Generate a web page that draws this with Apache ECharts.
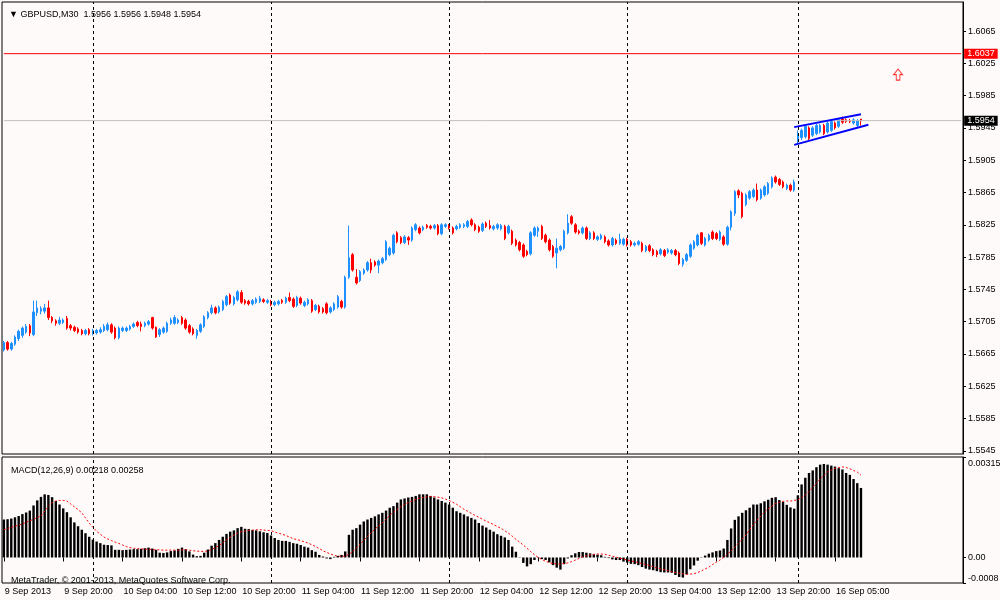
<!DOCTYPE html>
<html>
<head>
<meta charset="utf-8">
<title>GBPUSD,M30</title>
<script src="https://cdn.jsdelivr.net/npm/echarts@6.0.0/dist/echarts.min.js"></script>
<style>
  html, body { margin: 0; padding: 0; background: #fffafa; }
  #chart { width: 1000px; height: 600px; }
</style>
</head>
<body>
<div id="chart"></div>
<script>
// sessions: [day, first half-hour slot, bar count] - the last day also holds the empty slots on the right
var sessions = [['9 Sep', 24, 24], ['10 Sep', 0, 48], ['11 Sep', 0, 48], ['12 Sep', 0, 48], ['13 Sep', 0, 46], ['16 Sep', 0, 45]];
var tickIdx = [0, 16, 32, 48, 64, 80, 96, 112, 128, 144, 160, 176, 192, 208, 224];
var tickText = ['9 Sep 2013', '9 Sep 20:00', '10 Sep 04:00', '10 Sep 12:00', '10 Sep 20:00', '11 Sep 04:00', '11 Sep 12:00',
  '11 Sep 20:00', '12 Sep 04:00', '12 Sep 12:00', '12 Sep 20:00', '13 Sep 04:00', '13 Sep 12:00', '13 Sep 20:00', '16 Sep 05:00'];
var sepIdx = [24, 72, 120, 168, 214]; // period separators (midnight)
var priceTicks = [1.5545, 1.5585, 1.5625, 1.5665, 1.5705, 1.5745, 1.5785, 1.5825, 1.5865, 1.5905, 1.5945, 1.5985, 1.6025, 1.6065];
var macdTicks = [-0.0008, 0, 0.00315];

// open, close, low, high
var candles = [
  // 0
  [1.5670,1.5679,1.5668,1.5681],[1.5679,1.5671,1.5669,1.5681],[1.5671,1.5678,1.5669,1.5680],[1.5677,1.5686,1.5675,1.5688],
  [1.5684,1.5693,1.5681,1.5695],[1.5688,1.5697,1.5685,1.5699],[1.5692,1.5699,1.5690,1.5702],[1.5700,1.5691,1.5687,1.5702],
  // 8
  [1.5689,1.5717,1.5687,1.5731],[1.5716,1.5722,1.5712,1.5731],[1.5718,1.5721,1.5714,1.5724],[1.5718,1.5722,1.5715,1.5727],
  [1.5722,1.5710,1.5707,1.5731],[1.5710,1.5706,1.5703,1.5712],[1.5706,1.5703,1.5700,1.5708],[1.5703,1.5707,1.5701,1.5711],
  // 16
  [1.5704,1.5707,1.5702,1.5709],[1.5709,1.5697,1.5695,1.5712],[1.5700,1.5697,1.5694,1.5702],[1.5698,1.5694,1.5692,1.5700],
  [1.5696,1.5692,1.5690,1.5698],[1.5694,1.5690,1.5688,1.5696],[1.5690,1.5694,1.5688,1.5696],[1.5695,1.5690,1.5688,1.5697],
  // 24
  [1.5690,1.5694,1.5688,1.5696],[1.5691,1.5694,1.5689,1.5696],[1.5692,1.5695,1.5690,1.5698],[1.5694,1.5699,1.5692,1.5702],
  [1.5695,1.5701,1.5693,1.5704],[1.5701,1.5692,1.5690,1.5703],[1.5697,1.5685,1.5683,1.5699],[1.5685,1.5697,1.5683,1.5699],
  // 32
  [1.5694,1.5697,1.5692,1.5699],[1.5694,1.5697,1.5692,1.5699],[1.5696,1.5699,1.5694,1.5701],[1.5699,1.5702,1.5697,1.5704],
  [1.5704,1.5700,1.5698,1.5706],[1.5702,1.5699,1.5693,1.5705],[1.5700,1.5703,1.5698,1.5705],[1.5702,1.5705,1.5700,1.5707],
  // 40
  [1.5710,1.5697,1.5695,1.5711],[1.5698,1.5686,1.5685,1.5699],[1.5689,1.5695,1.5686,1.5697],[1.5692,1.5697,1.5690,1.5699],
  [1.5693,1.5703,1.5691,1.5705],[1.5703,1.5707,1.5701,1.5710],[1.5703,1.5710,1.5701,1.5713],[1.5704,1.5707,1.5702,1.5709],
  // 48
  [1.5710,1.5703,1.5701,1.5712],[1.5707,1.5697,1.5695,1.5709],[1.5700,1.5692,1.5690,1.5702],[1.5696,1.5690,1.5688,1.5698],
  [1.5688,1.5694,1.5684,1.5696],[1.5693,1.5701,1.5691,1.5703],[1.5699,1.5711,1.5697,1.5713],[1.5710,1.5716,1.5708,1.5718],
  // 56
  [1.5716,1.5722,1.5714,1.5726],[1.5722,1.5716,1.5714,1.5724],[1.5717,1.5723,1.5715,1.5725],[1.5720,1.5730,1.5718,1.5732],
  [1.5726,1.5736,1.5724,1.5738],[1.5738,1.5728,1.5726,1.5740],[1.5727,1.5735,1.5725,1.5737],[1.5732,1.5742,1.5730,1.5744],
  // 64
  [1.5741,1.5729,1.5727,1.5744],[1.5731,1.5728,1.5726,1.5733],[1.5730,1.5727,1.5725,1.5732],[1.5727,1.5731,1.5725,1.5733],
  [1.5729,1.5733,1.5727,1.5735],[1.5730,1.5734,1.5728,1.5737],[1.5732,1.5730,1.5728,1.5734],[1.5729,1.5731,1.5727,1.5733],
  // 72
  [1.5730,1.5726,1.5724,1.5732],[1.5726,1.5729,1.5724,1.5731],[1.5727,1.5730,1.5725,1.5732],[1.5731,1.5729,1.5727,1.5733],
  [1.5729,1.5734,1.5727,1.5736],[1.5735,1.5731,1.5729,1.5741],[1.5733,1.5724,1.5722,1.5735],[1.5725,1.5735,1.5723,1.5737],
  // 80
  [1.5734,1.5728,1.5726,1.5736],[1.5725,1.5729,1.5723,1.5731],[1.5727,1.5732,1.5725,1.5734],[1.5731,1.5718,1.5716,1.5733],
  [1.5720,1.5725,1.5718,1.5727],[1.5724,1.5717,1.5715,1.5726],[1.5721,1.5717,1.5715,1.5723],[1.5727,1.5716,1.5714,1.5729],
  // 88
  [1.5717,1.5722,1.5715,1.5724],[1.5720,1.5727,1.5718,1.5729],[1.5723,1.5736,1.5721,1.5738],[1.5730,1.5723,1.5721,1.5732],
  [1.5723,1.5760,1.5721,1.5762],[1.5760,1.5784,1.5758,1.5824],[1.5788,1.5769,1.5767,1.5790],[1.5760,1.5753,1.5751,1.5770],
  // 96
  [1.5756,1.5767,1.5754,1.5769],[1.5765,1.5769,1.5763,1.5771],[1.5769,1.5778,1.5767,1.5780],[1.5778,1.5769,1.5765,1.5783],
  [1.5779,1.5775,1.5773,1.5781],[1.5775,1.5780,1.5765,1.5782],[1.5778,1.5783,1.5776,1.5785],[1.5782,1.5804,1.5780,1.5806],
  // 104
  [1.5788,1.5796,1.5786,1.5798],[1.5790,1.5812,1.5788,1.5814],[1.5815,1.5804,1.5802,1.5817],[1.5809,1.5803,1.5801,1.5811],
  [1.5803,1.5810,1.5801,1.5812],[1.5809,1.5806,1.5800,1.5811],[1.5806,1.5821,1.5804,1.5823],[1.5819,1.5825,1.5817,1.5827],
  // 112
  [1.5821,1.5815,1.5813,1.5823],[1.5819,1.5822,1.5817,1.5824],[1.5824,1.5822,1.5820,1.5826],[1.5823,1.5821,1.5819,1.5825],
  [1.5821,1.5824,1.5819,1.5826],[1.5824,1.5814,1.5812,1.5826],[1.5814,1.5825,1.5812,1.5827],[1.5823,1.5825,1.5821,1.5827],
  // 120
  [1.5824,1.5821,1.5819,1.5826],[1.5821,1.5815,1.5813,1.5823],[1.5820,1.5823,1.5818,1.5825],[1.5822,1.5825,1.5820,1.5827],
  [1.5823,1.5825,1.5821,1.5827],[1.5823,1.5829,1.5821,1.5831],[1.5831,1.5825,1.5823,1.5833],[1.5825,1.5819,1.5817,1.5827],
  // 128
  [1.5822,1.5817,1.5815,1.5824],[1.5818,1.5826,1.5816,1.5828],[1.5827,1.5823,1.5821,1.5829],[1.5824,1.5821,1.5819,1.5831],
  [1.5820,1.5823,1.5818,1.5825],[1.5821,1.5825,1.5819,1.5827],[1.5820,1.5824,1.5818,1.5826],[1.5823,1.5808,1.5806,1.5825],
  // 136
  [1.5815,1.5823,1.5813,1.5825],[1.5817,1.5802,1.5800,1.5819],[1.5806,1.5800,1.5798,1.5808],[1.5803,1.5794,1.5792,1.5805],
  [1.5800,1.5786,1.5784,1.5802],[1.5792,1.5788,1.5786,1.5794],[1.5789,1.5815,1.5787,1.5817],[1.5812,1.5821,1.5810,1.5823],
  // 144
  [1.5817,1.5821,1.5810,1.5823],[1.5823,1.5808,1.5806,1.5825],[1.5812,1.5804,1.5802,1.5814],[1.5806,1.5794,1.5792,1.5808],
  [1.5798,1.5786,1.5784,1.5800],[1.5790,1.5796,1.5771,1.5808],[1.5794,1.5798,1.5792,1.5800],[1.5796,1.5817,1.5794,1.5819],
  // 152
  [1.5815,1.5827,1.5813,1.5838],[1.5835,1.5827,1.5825,1.5837],[1.5825,1.5816,1.5814,1.5827],[1.5817,1.5815,1.5813,1.5819],
  [1.5815,1.5821,1.5813,1.5823],[1.5821,1.5808,1.5806,1.5823],[1.5808,1.5815,1.5806,1.5817],[1.5815,1.5808,1.5806,1.5817],
  // 160
  [1.5807,1.5810,1.5805,1.5812],[1.5808,1.5812,1.5806,1.5814],[1.5810,1.5804,1.5802,1.5812],[1.5805,1.5800,1.5798,1.5807],
  [1.5800,1.5808,1.5798,1.5810],[1.5806,1.5802,1.5800,1.5808],[1.5802,1.5807,1.5800,1.5814],[1.5801,1.5807,1.5799,1.5809],
  // 168
  [1.5807,1.5800,1.5798,1.5809],[1.5804,1.5800,1.5798,1.5806],[1.5800,1.5802,1.5798,1.5804],[1.5801,1.5804,1.5799,1.5806],
  [1.5802,1.5793,1.5791,1.5804],[1.5793,1.5798,1.5791,1.5800],[1.5799,1.5793,1.5791,1.5801],[1.5794,1.5788,1.5786,1.5796],
  // 176
  [1.5792,1.5788,1.5785,1.5794],[1.5789,1.5794,1.5787,1.5796],[1.5793,1.5787,1.5785,1.5795],[1.5791,1.5794,1.5789,1.5796],
  [1.5790,1.5793,1.5788,1.5795],[1.5793,1.5788,1.5786,1.5795],[1.5790,1.5777,1.5775,1.5792],[1.5776,1.5782,1.5773,1.5784],
  // 184
  [1.5781,1.5788,1.5779,1.5790],[1.5786,1.5800,1.5784,1.5802],[1.5796,1.5804,1.5794,1.5806],[1.5800,1.5812,1.5798,1.5814],
  [1.5815,1.5802,1.5800,1.5816],[1.5800,1.5808,1.5798,1.5810],[1.5806,1.5812,1.5804,1.5814],[1.5816,1.5808,1.5806,1.5818],
  // 192
  [1.5814,1.5808,1.5806,1.5816],[1.5807,1.5816,1.5805,1.5818],[1.5810,1.5801,1.5799,1.5812],[1.5801,1.5822,1.5799,1.5824],
  [1.5822,1.5841,1.5818,1.5843],[1.5839,1.5866,1.5836,1.5868],[1.5867,1.5862,1.5858,1.5869],[1.5864,1.5835,1.5833,1.5866],
  // 200
  [1.5850,1.5862,1.5848,1.5864],[1.5858,1.5866,1.5856,1.5868],[1.5860,1.5868,1.5858,1.5870],[1.5868,1.5856,1.5854,1.5876],
  [1.5858,1.5868,1.5856,1.5870],[1.5862,1.5872,1.5860,1.5874],[1.5864,1.5876,1.5862,1.5878],[1.5872,1.5883,1.5870,1.5885],
  // 208
  [1.5884,1.5878,1.5876,1.5886],[1.5881,1.5875,1.5873,1.5883],[1.5878,1.5872,1.5870,1.5880],[1.5870,1.5874,1.5868,1.5876],
  [1.5874,1.5868,1.5866,1.5876],[1.5868,1.5878,1.5866,1.5881],[1.5928,1.5938,1.5924,1.5942],[1.5933,1.5942,1.5930,1.5944],
  // 216
  [1.5934,1.5947,1.5932,1.5949],[1.5945,1.5932,1.5930,1.5947],[1.5936,1.5945,1.5934,1.5947],[1.5938,1.5948,1.5936,1.5950],
  [1.5940,1.5948,1.5938,1.5950],[1.5948,1.5938,1.5936,1.5950],[1.5940,1.5951,1.5938,1.5953],[1.5942,1.5953,1.5940,1.5955],
  // 224
  [1.5951,1.5945,1.5943,1.5953],[1.5947,1.5955,1.5945,1.5957],[1.5956,1.5952,1.5950,1.5959],[1.5955,1.5953,1.5951,1.5957],
  [1.5954,1.5953,1.5951,1.5956],[1.5951,1.5955,1.5949,1.5957],[1.5948,1.5954,1.5946,1.5956],[1.5956,1.5954,1.5948,1.5956]
];

var macdHist = [
  0.00119,0.00120,0.00122,0.00126,0.00130,0.00136,0.00141,0.00147,0.00163,0.00179,
  0.00190,0.00198,0.00196,0.00189,0.00177,0.00166,0.00154,0.00142,0.00126,0.00110,
  0.00098,0.00087,0.00076,0.00065,0.00056,0.00050,0.00045,0.00040,0.00039,0.00038,
  0.00024,0.00024,0.00023,0.00024,0.00025,0.00026,0.00026,0.00027,0.00029,0.00031,
  0.00028,0.00024,0.00015,0.00014,0.00016,0.00020,0.00022,0.00027,0.00031,0.00026,
  0.00019,0.00009,0.00004,0.00005,0.00015,0.00025,0.00037,0.00045,0.00055,0.00065,
  0.00074,0.00081,0.00085,0.00092,0.00096,0.00090,0.00089,0.00086,0.00085,0.00082,
  0.00079,0.00077,0.00069,0.00061,0.00055,0.00052,0.00052,0.00049,0.00045,0.00043,
  0.00039,0.00034,0.00031,0.00023,0.00018,0.00008,0.00003,-0.00003,-0.00005,0.00002,
  0.00005,0.00008,0.00019,0.00071,0.00087,0.00092,0.00103,0.00113,0.00119,0.00124,
  0.00129,0.00135,0.00140,0.00147,0.00156,0.00161,0.00172,0.00182,0.00185,0.00188,
  0.00190,0.00193,0.00198,0.00198,0.00198,0.00193,0.00188,0.00182,0.00177,0.00172,
  0.00166,0.00156,0.00145,0.00140,0.00135,0.00129,0.00124,0.00119,0.00108,0.00100,
  0.00094,0.00087,0.00081,0.00073,0.00068,0.00063,0.00055,0.00034,0.00018,0.00001,
  -0.00017,-0.00028,-0.00021,-0.00008,-0.00001,-0.00005,-0.00008,-0.00015,-0.00024,-0.00032,
  -0.00038,-0.00021,-0.00003,0.00007,0.00013,0.00017,0.00017,0.00015,0.00013,0.00010,
  0.00009,0.00007,0.00002,-0.00002,-0.00006,-0.00008,-0.00008,-0.00013,-0.00016,-0.00020,
  -0.00021,-0.00024,-0.00030,-0.00035,-0.00038,-0.00040,-0.00043,-0.00046,-0.00047,-0.00047,
  -0.00048,-0.00055,-0.00061,-0.00063,-0.00053,-0.00037,-0.00025,-0.00010,-0.00001,0.00006,
  0.00012,0.00016,0.00020,0.00022,0.00028,0.00055,0.00091,0.00118,0.00129,0.00140,
  0.00148,0.00156,0.00166,0.00166,0.00170,0.00176,0.00181,0.00187,0.00189,0.00180,
  0.00174,0.00165,0.00157,0.00153,0.00195,0.00229,0.00250,0.00265,0.00273,0.00283,
  0.00291,0.00293,0.00291,0.00288,0.00285,0.00280,0.00276,0.00265,0.00259,0.00246,
  0.00233,0.00218
];

var macdSignal = [
  0.00087,0.00091,0.00094,0.00098,0.00101,0.00105,0.00110,0.00115,0.00120,0.00125,
  0.00130,0.00145,0.00160,0.00172,0.00177,0.00179,0.00179,0.00177,0.00168,0.00159,
  0.00150,0.00140,0.00124,0.00108,0.00095,0.00082,0.00073,0.00064,0.00058,0.00053,
  0.00048,0.00044,0.00039,0.00034,0.00031,0.00029,0.00028,0.00027,0.00026,0.00026,
  0.00025,0.00024,0.00024,0.00023,0.00023,0.00023,0.00023,0.00023,0.00024,0.00024,
  0.00023,0.00021,0.00020,0.00019,0.00019,0.00021,0.00025,0.00031,0.00037,0.00046,
  0.00055,0.00063,0.00070,0.00076,0.00081,0.00083,0.00085,0.00086,0.00087,0.00087,
  0.00086,0.00085,0.00084,0.00080,0.00076,0.00073,0.00069,0.00064,0.00059,0.00056,
  0.00053,0.00049,0.00045,0.00040,0.00034,0.00028,0.00021,0.00016,0.00011,0.00007,
  0.00004,0.00004,0.00004,0.00010,0.00018,0.00030,0.00041,0.00054,0.00066,0.00078,
  0.00089,0.00099,0.00108,0.00120,0.00132,0.00142,0.00151,0.00159,0.00167,0.00172,
  0.00177,0.00182,0.00186,0.00188,0.00190,0.00191,0.00191,0.00189,0.00187,0.00183,
  0.00179,0.00173,0.00167,0.00159,0.00151,0.00145,0.00138,0.00132,0.00126,0.00120,
  0.00114,0.00109,0.00103,0.00097,0.00091,0.00084,0.00076,0.00067,0.00057,0.00048,
  0.00039,0.00029,0.00018,0.00009,0.00000,-0.00006,-0.00012,-0.00016,-0.00019,-0.00020,
  -0.00021,-0.00019,-0.00017,-0.00013,-0.00008,-0.00003,0.00002,0.00005,0.00008,0.00010,
  0.00011,0.00011,0.00010,0.00007,0.00004,0.00001,-0.00002,-0.00005,-0.00008,-0.00011,
  -0.00013,-0.00016,-0.00019,-0.00022,-0.00025,-0.00029,-0.00033,-0.00036,-0.00038,-0.00042,
  -0.00045,-0.00047,-0.00049,-0.00051,-0.00053,-0.00052,-0.00051,-0.00047,-0.00042,-0.00036,
  -0.00030,-0.00022,-0.00015,-0.00008,0.00000,0.00010,0.00020,0.00033,0.00045,0.00058,
  0.00071,0.00087,0.00103,0.00117,0.00130,0.00142,0.00153,0.00161,0.00169,0.00173,
  0.00176,0.00177,0.00177,0.00179,0.00181,0.00188,0.00195,0.00207,0.00220,0.00233,
  0.00246,0.00257,0.00268,0.00274,0.00280,0.00282,0.00284,0.00282,0.00278,0.00273,
  0.00268,0.00258
];

// trend channel [bar index, price] and the up arrow object
var channelUp = [[213, 1.5946], [231, 1.5962]];
var channelDown = [[213, 1.5924], [233, 1.5949]];
var arrowUp = [[241, 1.6011]];
var redLevel = 1.6037;
var bidLevel = 1.5954;

var categories = [];
sessions.forEach(function (s) {
  for (var k = 0; k < s[2]; k++) {
    var slot = s[1] + k;
    var hh = Math.floor(slot / 2);
    categories.push(s[0] + ' ' + (hh < 10 ? '0' : '') + hh + ':' + (slot % 2 ? '30' : '00'));
  }
});
var lastSlot = categories.length - 1;

var FONT = 'Liberation Sans';
var sepLine = { type: [3, 3], color: '#000000', width: 1 };
function separators() {
  return sepIdx.map(function (i) {
    return { xAxis: categories[i], lineStyle: sepLine, label: { show: false } };
  });
}
function showTick(index) {
  return tickIdx.indexOf(index) >= 0;
}
// horizontal level drawn across the whole chart, its price box sits on the scale
function levelSeries(name, value, lineColor, boxColor) {
  return {
    name: name, type: 'line', xAxisIndex: 0, yAxisIndex: 0, data: [[0, value], [lastSlot, value]],
    symbol: 'none', z: 3, silent: true,
    lineStyle: { color: lineColor, width: 1 },
    endLabel: { show: true, distance: 3, formatter: value.toFixed(4),
      backgroundColor: boxColor, color: '#ffffff', padding: [1, 3, 0, 3], fontFamily: FONT, fontSize: 9 }
  };
}

var myChart = echarts.init(document.getElementById('chart'));
myChart.setOption({
  backgroundColor: '#fffafa',
  animation: false,
  title: [
    { text: '▼ GBPUSD,M30  1.5956 1.5956 1.5948 1.5954', left: 4, top: 5,
      textStyle: { fontFamily: FONT, fontSize: 9, fontWeight: 'normal', color: '#000' } },
    { text: 'MACD(12,26,9) 0.00218 0.00258', left: 6, top: 461,
      textStyle: { fontFamily: FONT, fontSize: 9, fontWeight: 'normal', color: '#000' } },
    { text: 'MetaTrader, © 2001-2013, MetaQuotes Software Corp.', left: 6, top: 571,
      textStyle: { fontFamily: FONT, fontSize: 9, fontWeight: 'normal', color: '#000' } }
  ],
  grid: [
    { left: 2, top: 2, width: 961, height: 452, show: true, borderColor: '#000', borderWidth: 1,
      containLabel: false, outerBoundsMode: 'none' },
    { left: 2, top: 457, width: 961, height: 126, show: true, borderColor: '#000', borderWidth: 1,
      containLabel: false, outerBoundsMode: 'none' }
  ],
  xAxis: [
    { type: 'category', gridIndex: 0, data: categories, boundaryGap: true,
      axisLine: { show: false }, axisTick: { show: false }, axisLabel: { show: false }, splitLine: { show: false } },
    { type: 'category', gridIndex: 1, data: categories, boundaryGap: true,
      axisLine: { show: false },
      axisTick: { show: true, alignWithLabel: true, interval: showTick, length: 4, lineStyle: { color: '#000' } },
      axisLabel: {
        interval: showTick, align: 'left', margin: 4, padding: [0, 0, 0, 1],
        color: '#000', fontFamily: FONT, fontSize: 9,
        formatter: function (value, index) {
          var k = tickIdx.indexOf(index);
          return k >= 0 ? tickText[k] : '';
        }
      },
      splitLine: { show: false } }
  ],
  yAxis: [
    { type: 'value', gridIndex: 0, position: 'right', min: 1.5541, max: 1.6101,
      splitLine: { show: false },
      axisLine: { show: true, lineStyle: { color: '#000' } },
      axisTick: { show: true, length: 3, customValues: priceTicks, lineStyle: { color: '#000' } },
      axisLabel: { customValues: priceTicks, margin: 5, color: '#000', fontFamily: FONT, fontSize: 9,
        formatter: function (v) { return v.toFixed(4); } } },
    { type: 'value', gridIndex: 1, position: 'right', min: -0.0008, max: 0.00315,
      splitLine: { show: false },
      axisLine: { show: true, lineStyle: { color: '#000' } },
      axisTick: { show: true, length: 3, customValues: macdTicks, lineStyle: { color: '#000' } },
      axisLabel: { customValues: macdTicks, margin: 5, color: '#000', fontFamily: FONT, fontSize: 9,
        formatter: function (v) {
          if (v > 0.003) return '{t|0.00315}';
          if (v < 0) return '{b|-0.0008}';
          return '0.00';
        },
        rich: {
          t: { fontFamily: FONT, fontSize: 9, color: '#000', padding: [14, 0, 0, 0] },
          b: { fontFamily: FONT, fontSize: 9, color: '#000', padding: [0, 0, 8, 0] }
        } } }
  ],
  series: [
    {
      name: 'GBPUSD', type: 'candlestick', xAxisIndex: 0, yAxisIndex: 0,
      data: candles, barWidth: 2,
      itemStyle: { color: '#1e90ff', color0: '#ff0000', borderColor: '#1e90ff', borderColor0: '#ff0000', borderWidth: 1 },
      markLine: { silent: true, symbol: ['none', 'none'], animation: false, data: separators() }
    },
    levelSeries('bid', bidLevel, '#c0c0c0', '#000000'),
    levelSeries('level', redLevel, '#ff0000', '#ff0000'),
    { name: 'channel top', type: 'line', xAxisIndex: 0, yAxisIndex: 0, data: channelUp, symbol: 'none', z: 4,
      lineStyle: { color: '#0000ff', width: 2 } },
    { name: 'channel bottom', type: 'line', xAxisIndex: 0, yAxisIndex: 0, data: channelDown, symbol: 'none', z: 4,
      lineStyle: { color: '#0000ff', width: 2 } },
    { name: 'arrow', type: 'scatter', xAxisIndex: 0, yAxisIndex: 0, data: arrowUp,
      symbol: 'path://M5,0 L10,6 L7,6 L7,12 L3,12 L3,6 L0,6 Z', symbolSize: [9, 11],
      itemStyle: { color: '#fffafa', borderColor: '#ff0000', borderWidth: 1 } },
    {
      name: 'MACD', type: 'bar', xAxisIndex: 1, yAxisIndex: 1, data: macdHist, barWidth: 2.4,
      itemStyle: { color: '#000000' },
      markLine: { silent: true, symbol: ['none', 'none'], animation: false, data: separators() }
    },
    { name: 'Signal', type: 'line', xAxisIndex: 1, yAxisIndex: 1, data: macdSignal, symbol: 'none',
      lineStyle: { color: '#ff0000', width: 1, type: [2, 2] }, z: 4 }
  ]
});
</script>
</body>
</html>
